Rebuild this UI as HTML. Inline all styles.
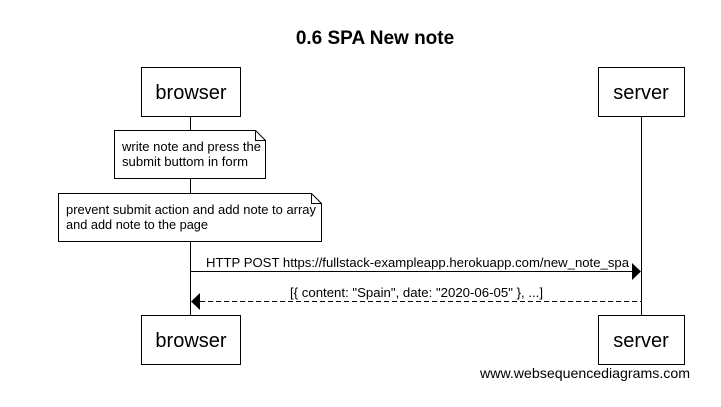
<!DOCTYPE html>
<html><head><style>body{margin:0;background:#fff}</style></head><body>
<svg width="721" height="402" xmlns="http://www.w3.org/2000/svg" font-family="Liberation Sans, sans-serif">
<rect width="721" height="402" fill="#fff"/>
<text x="375" y="44" font-size="19" font-weight="bold" text-anchor="middle">0.6 SPA New note</text>
<line x1="190.5" y1="116" x2="190.5" y2="315" stroke="#000"/>
<line x1="641.5" y1="116" x2="641.5" y2="315" stroke="#000"/>
<g fill="#fff" stroke="#000">
<rect x="141.5" y="67.5" width="99" height="49"/>
<rect x="598.5" y="67.5" width="86" height="49"/>
<rect x="141.5" y="315.5" width="99" height="49"/>
<rect x="598.5" y="315.5" width="86" height="49"/>
<path d="M114.5 130.5H255.5L265.5 140.5V178.5H114.5Z"/>
<path d="M255.5 130.5V140.5H265.5" fill="none"/>
<path d="M58.5 193.5H311.5L321.5 203.5V241.5H58.5Z"/>
<path d="M311.5 193.5V203.5H321.5" fill="none"/>
</g>
<g font-size="20" text-anchor="middle">
<text x="191" y="99">browser</text><text x="641" y="99">server</text>
<text x="191" y="347">browser</text><text x="641" y="347">server</text>
</g>
<g font-size="12.5">
<text x="122" y="151" textLength="139" lengthAdjust="spacingAndGlyphs">write note and press the</text>
<text x="122" y="166" textLength="126" lengthAdjust="spacingAndGlyphs">submit buttom in form</text>
<text x="66" y="214" textLength="250" lengthAdjust="spacingAndGlyphs">prevent submit action and add note to array</text>
<text x="66" y="229" textLength="142" lengthAdjust="spacingAndGlyphs">and add note to the page</text>
<text x="206" y="267" textLength="423" lengthAdjust="spacingAndGlyphs">HTTP POST https://fullstack-exampleapp.herokuapp.com/new_note_spa</text>
<text x="290" y="297" textLength="253" lengthAdjust="spacingAndGlyphs">[{ content: "Spain", date: "2020-06-05" }, ...]</text>
</g>
<line x1="190" y1="271.5" x2="632" y2="271.5" stroke="#000"/>
<path d="M641 271.5L632 263V280Z"/>
<line x1="200" y1="301.5" x2="641" y2="301.5" stroke="#000" stroke-dasharray="5,3"/>
<path d="M191 301.5L200 293V310Z"/>
<text x="480" y="378" font-size="14" textLength="210" lengthAdjust="spacingAndGlyphs">www.websequencediagrams.com</text>
</svg>
</body></html>
